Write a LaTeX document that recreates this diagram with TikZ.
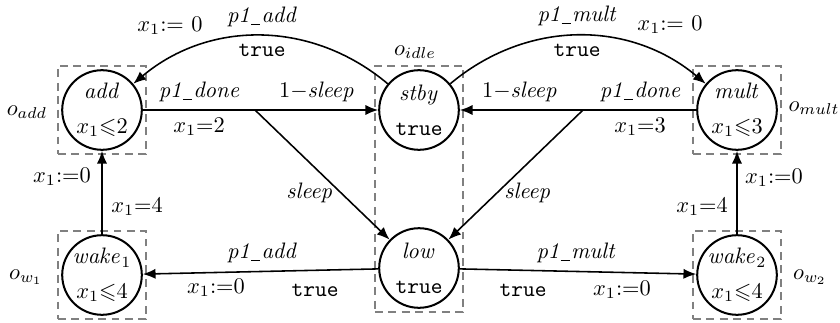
\documentclass[tikz,border=0pt]{standalone}
\usepackage{amssymb}
\usetikzlibrary{arrows.meta,fit}

\newcommand{\us}{\kern0.05em\rule[-0.2ex]{0.42em}{0.4pt}\kern0.05em}

\begin{document}
\begin{tikzpicture}[x=0.0157cm,y=-0.0157cm]
		\tikzset{loc/.style = {shape=circle, draw, line width=0.9pt, inner sep=0pt, minimum size=1.25cm, align=center},
			locbox/.style = {draw=gray, line width=0.8pt, dash pattern=on 3.5pt off 2.5pt, inner sep=1.5pt},
			trans/.style = {-{Latex[length=2mm,width=1.6mm]}, line width=0.7pt}}

		\useasboundingbox (0,0) rectangle (840,322);

		\node[loc] (add) at (102,110) {$\mathit{add}$\\[3.5pt]$x_1{\leqslant}2$};
		\node[loc] (stby) at (419,110) {$\mathit{stby}$\\[3.5pt]\texttt{true}};
		\node[loc] (mult) at (737,110) {$\mathit{mult}$\\[3.5pt]$x_1{\leqslant}3$};
		\node[loc] (wake_1) at (102,275) {$\mathit{wake}_1$\\[3.5pt]$x_1{\leqslant}4$};
		\node[loc] (low) at (419,268) {$\mathit{low}$\\[3.5pt]\texttt{true}};
		\node[loc] (wake_2) at (737,275) {$\mathit{wake}_2$\\[3.5pt]$x_1{\leqslant}4$};

		\node[locbox, fit=(add)] (box_add) {};
		\node[locbox, fit=(stby)(low)] (box_idle) {};
		\node[locbox, fit=(mult)] (box_mult) {};
		\node[locbox, fit=(wake_1)] (box_w_1) {};
		\node[locbox, fit=(wake_2)] (box_w_2) {};

		\node (o_add) at (27,112) {$o_{add}$};
		\node (o_idle) at (415,52) {$o_{idle}$};
		\node (o_mult) at (814,108) {$o_{mult}$};
		\node (o_w_1) at (26,277) {$o_{w_1}$};
		\node (o_w_2) at (810,277) {$o_{w_2}$};

		\coordinate (br_l) at (255,110);
		\coordinate (br_r) at (583,110);

		\draw[trans] (add)--(stby);
		\draw[trans] (mult)--(stby);
		\draw[trans] (br_l)--(low);
		\draw[trans] (br_r)--(low);
		\draw[trans] (stby) to[out=140, in=40] (add);
		\draw[trans] (stby) to[out=40, in=140] (mult);
		\draw[trans] (wake_1)--(add);
		\draw[trans] (wake_2)--(mult);
		\draw[trans] (low)--(wake_1);
		\draw[trans] (low)--(wake_2);

		\node (l_1) at (170,26) {$x_1{:}{=}\ 0$};
		\node (l_2) at (262,17) {\textit{p1\us add}};
		\node (l_3) at (262,50) {\texttt{true}};
		\node (l_4) at (577,16) {\textit{p1\us mult}};
		\node (l_5) at (670,25) {$x_1{:}{=}\ 0$};
		\node (l_6) at (577,50) {\texttt{true}};

		\node (l_7) at (199,92) {\textit{p1\us done}};
		\node (l_8) at (317,92) {$1{-}\mathit{sleep}$};
		\node (l_9) at (199,127) {$x_1{=}2$};
		\node (l_10) at (520,92) {$1{-}\mathit{sleep}$};
		\node (l_11) at (640,92) {\textit{p1\us done}};
		\node (l_12) at (640,127) {$x_1{=}3$};

		\node (l_13) at (62,177) {$x_1{:=}0$};
		\node (l_14) at (137,207) {$x_1{=}4$};
		\node (l_15) at (774,178) {$x_1{:=}0$};
		\node (l_16) at (702,207) {$x_1{=}4$};
		\node (l_17) at (310,193) {$\mathit{sleep}$};
		\node (l_18) at (528,193) {$\mathit{sleep}$};

		\node (l_19) at (262,253) {\textit{p1\us add}};
		\node (l_20) at (216,288) {$x_1{:=}0$};
		\node (l_21) at (315,290) {\texttt{true}};
		\node (l_22) at (576,253) {\textit{p1\us mult}};
		\node (l_23) at (523,290) {\texttt{true}};
		\node (l_24) at (622,290) {$x_1{:=}0$};

	\end{tikzpicture}
\end{document}
